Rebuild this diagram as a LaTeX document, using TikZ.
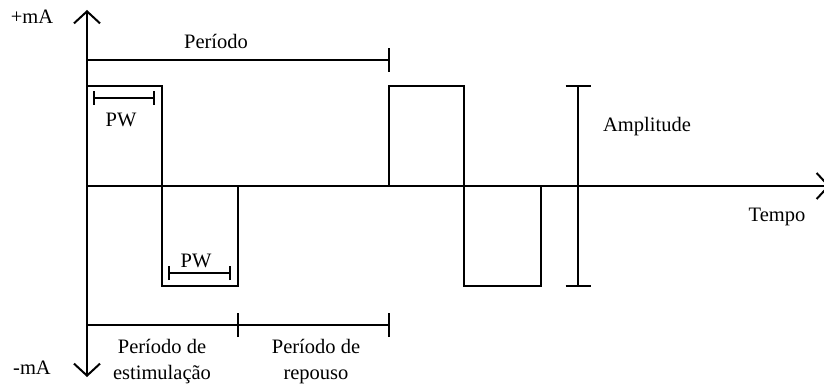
\documentclass[tikz,border=0pt]{standalone}
\usepackage{fontspec}
\setmainfont{Liberation Serif}
\usetikzlibrary{arrows.meta}
\begin{document}
\begin{tikzpicture}[x=1pt,y=-1pt,
  line width=2pt,
  wave/.style={line join=miter},
  barb/.style={-{Straight Barb[length=12pt,width=26pt,line width=2pt]}},
  lbl/.style={inner sep=0pt,font=\fontsize{20.5}{26}\selectfont,align=center}]
\useasboundingbox (0,0) rectangle (824,390);

% axes
\coordinate (o) at (87,186);
\coordinate (ytop) at (87,10);
\coordinate (ybot) at (87,377);
\coordinate (xend) at (830,186);
\draw[barb] (o) -- (ytop);
\draw[barb] (o) -- (ybot);
\draw[barb] (o) -- (xend);

% biphasic pulses
\coordinate (a1) at (87,86);   \coordinate (a2) at (162,86);
\coordinate (a3) at (162,286); \coordinate (a4) at (238,286);
\coordinate (a5) at (238,186);
\draw[wave] (o) -- (a1) -- (a2) -- (a3) -- (a4) -- (a5);
\coordinate (b0) at (389,186);
\coordinate (b1) at (389,86);  \coordinate (b2) at (464,86);
\coordinate (b3) at (464,286); \coordinate (b4) at (541,286);
\coordinate (b5) at (541,186);
\draw[wave] (b0) -- (b1) -- (b2) -- (b3) -- (b4) -- (b5);

% period bracket
\coordinate (p0) at (87,60); \coordinate (p1) at (389,60);
\draw (p0) -- (p1);
\draw ([yshift=-12pt]p1) -- ([yshift=12pt]p1);

% pulse width brackets
\coordinate (w0) at (94,98);  \coordinate (w1) at (154,98);
\draw (w0) -- (w1);
\draw ([yshift=-7pt]w0) -- ([yshift=7pt]w0);
\draw ([yshift=-7pt]w1) -- ([yshift=7pt]w1);
\coordinate (v0) at (169,273); \coordinate (v1) at (230,273);
\draw (v0) -- (v1);
\draw ([yshift=-7pt]v0) -- ([yshift=7pt]v0);
\draw ([yshift=-7pt]v1) -- ([yshift=7pt]v1);

% stimulation / rest brackets
\coordinate (s0) at (87,325); \coordinate (s1) at (238,325); \coordinate (s2) at (389,325);
\draw (s0) -- (s2);
\draw ([yshift=-12pt]s1) -- ([yshift=12pt]s1);
\draw ([yshift=-12pt]s2) -- ([yshift=12pt]s2);

% amplitude bar
\coordinate (m0) at (578,86); \coordinate (m1) at (578,286);
\draw (m0) -- (m1);
\draw ([xshift=-12.5pt]m0) -- ([xshift=12.5pt]m0);
\draw ([xshift=-12.5pt]m1) -- ([xshift=12.5pt]m1);

% labels
\node[lbl] (plus) at (32,17) {+mA};
\node[lbl] (minus) at (32,368) {-mA};
\node[lbl] (per) at (216,41) {Período};
\node[lbl] (pw1) at (121,120) {PW};
\node[lbl] (pw2) at (196,261) {PW};
\node[lbl] (amp) at (647,127) {Amplitude};
\node[lbl] (tempo) at (777,217) {Tempo};
\node[lbl] (est) at (162,362) {Período de\\estimulação};
\node[lbl] (rep) at (316,362) {Período de\\repouso};
\end{tikzpicture}
\end{document}
